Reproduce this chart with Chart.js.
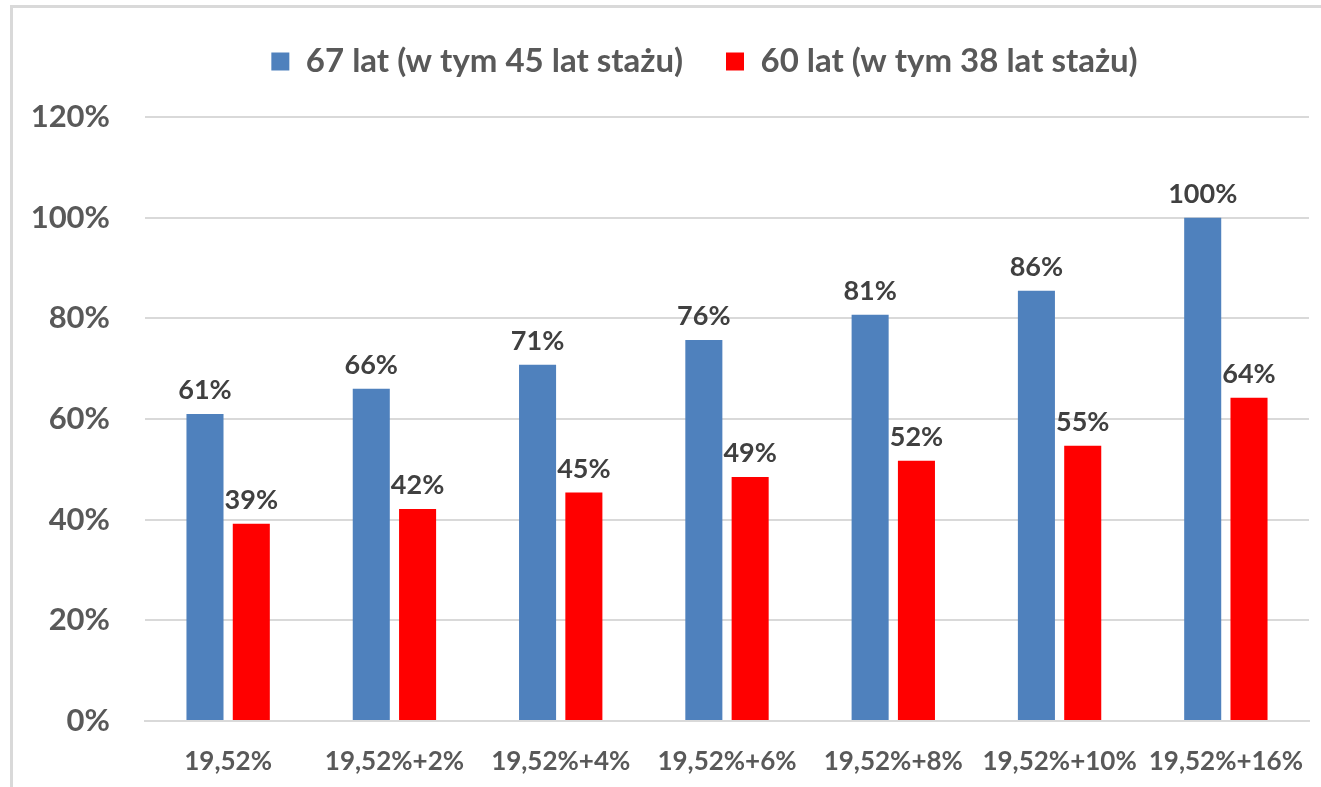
<!DOCTYPE html>
<html>
<head>
<meta charset="utf-8">
<script src="https://cdn.jsdelivr.net/npm/chart.js@4/dist/chart.umd.min.js"></script>
<style>
    body { margin: 0; background: #fff; }
    #wrap { position: absolute; left: 0; top: 0; width: 1321px; height: 787px; }
    #frame { position: absolute; left: 10px; top: 5px; width: 1311px; height: 782px;
             border-left: 3px solid #d9d9d9; border-top: 3px solid #d9d9d9; pointer-events: none; }
</style>
</head>
<body>
<div id="wrap"><canvas id="grafica"></canvas></div>
<div id="frame"></div>
<script>
const categorias = ['19,52%', '19,52%+2%', '19,52%+4%', '19,52%+6%', '19,52%+8%', '19,52%+10%', '19,52%+16%'];
const serie67 = [61.0, 66.0, 70.8, 75.7, 80.7, 85.5, 100.0];
const serie60 = [39.2, 42.1, 45.4, 48.5, 51.7, 54.7, 64.2];
const nombres = ['67 lat (w tym 45 lat stażu)', '60 lat (w tym 38 lat stażu)'];
const colores = ['#4f81bd', '#ff0000'];
const yMax = 120;
const yPaso = 20;

const fuente = "Lato, 'Open Sans', sans-serif";

// etiquetas encima de cada barra
const etiquetas = {
    id: 'etiquetas',
    afterDatasetsDraw(chart) {
        const ctx = chart.ctx;
        ctx.save();
        ctx.font = 'bold 27px ' + fuente;
        ctx.fillStyle = '#404040';
        ctx.textAlign = 'center';
        ctx.textBaseline = 'bottom';
        chart.data.datasets.forEach((ds, i) => {
            chart.getDatasetMeta(i).data.forEach((bar, j) => {
                ctx.fillText(Math.round(ds.data[j]) + '%', bar.x, bar.y - 10);
            });
        });
        ctx.restore();
    }
};

// ajuste del alto y posicion de la leyenda
const espacioLeyenda = {
    id: 'espacioLeyenda',
    beforeInit(chart) {
        const fitOriginal = chart.legend.fit;
        chart.legend.fit = function () {
            fitOriginal.bind(chart.legend)();
            this.height += 29;
        };
    },
    afterLayout(chart) {
        chart.legend.left += 50;
        chart.legend.right += 50;
    }
};

new Chart('grafica', {
    type: 'bar',
    data: {
        labels: categorias,
        datasets: [
            { label: nombres[0], data: serie67, backgroundColor: colores[0] },
            { label: nombres[1], data: serie60, backgroundColor: colores[1] }
        ]
    },
    options: {
        responsive: true,
        maintainAspectRatio: false,
        animation: false,
        layout: { padding: { top: 2, right: 12, left: 0, bottom: 0 } },
        datasets: {
            bar: { categoryPercentage: 0.557, barPercentage: 0.8 }
        },
        plugins: {
            legend: {
                display: true,
                labels: {
                    font: { family: fuente, size: 33, weight: 'bold' },
                    color: '#595959',
                    boxWidth: 18,
                    boxHeight: 18,
                    padding: 43
                }
            },
            tooltip: { enabled: false }
        },
        scales: {
            y: {
                min: 0,
                max: yMax,
                ticks: {
                    stepSize: yPaso,
                    padding: 35,
                    color: '#595959',
                    font: { family: fuente, size: 31, weight: 'bold' },
                    callback: function (value) {
                        return value + '%';
                    }
                },
                grid: { color: '#d9d9d9', lineWidth: 2, drawTicks: false },
                border: { display: false },
                afterFit: function (scale) { scale.width = 145; }
            },
            x: {
                ticks: {
                    padding: 17,
                    color: '#595959',
                    font: { family: fuente, size: 26, weight: 'bold' },
                    maxRotation: 0,
                    autoSkip: false
                },
                grid: { display: false },
                border: { display: true, color: '#d9d9d9', width: 2 },
                afterFit: function (scale) { scale.height = 66; }
            }
        }
    },
    plugins: [etiquetas, espacioLeyenda]
});
</script>
</body>
</html>
